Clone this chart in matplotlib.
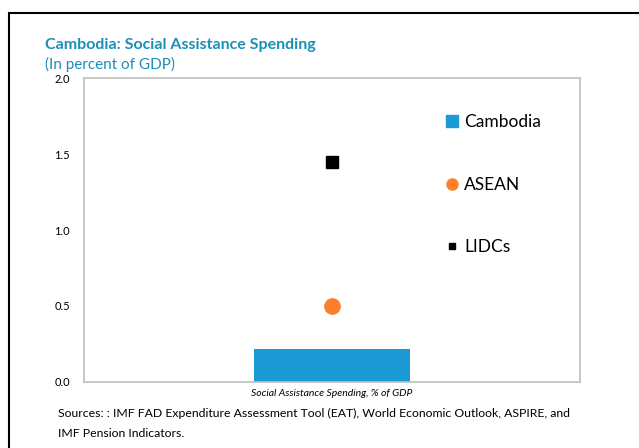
#!/usr/bin/env python3
"""Cambodia social assistance spending vs ASEAN and LIDCs."""
import matplotlib
matplotlib.use("Agg")
import matplotlib.pyplot as plt
from matplotlib.patches import Rectangle
from matplotlib.lines import Line2D

category = ["Social Assistance Spending, % of GDP"]
cambodia = [0.22]
asean = [0.50]
lidcs = [1.45]
yticks = [0.0, 0.5, 1.0, 1.5, 2.0]

BLUE = "#1c9ad6"
ORANGE = "#fd7f2a"
TITLE_C = "#1a8fb8"
plt.rcParams["font.family"] = ["Lato", "DejaVu Sans"]

fig = plt.figure(figsize=(6.39, 4.48), dpi=100)
ax = fig.add_axes([84 / 639, 1 - 382 / 448, 496 / 639, 304 / 448])

x = range(len(category))
ax.bar(x, cambodia, width=0.315, color=BLUE, zorder=2)
ax.plot(x, asean, "o", color=ORANGE, ms=11, zorder=3)
ax.plot(x, lidcs, "s", color="black", ms=9, zorder=3)

ax.set_xlim(-0.5, 0.5)
ax.set_ylim(0, 2.0)
ax.set_yticks(yticks)
ax.set_yticklabels([f"{v:.1f}" for v in yticks], fontsize=8)
ax.set_xticks([])
ax.tick_params(axis="y", length=0, pad=10)
for s in ax.spines.values():
    s.set_color("#bfbfbf")
    s.set_linewidth(1.2)
ax.set_xlabel(category[0], fontsize=7.5, style="italic", labelpad=5)

handles = [
    Line2D([], [], ls="none", marker="s", color=BLUE, ms=8),
    Line2D([], [], ls="none", marker="o", color=ORANGE, ms=8),
    Line2D([], [], ls="none", marker="s", color="black", ms=4),
]
ax.legend(handles, ["Cambodia", "ASEAN", "LIDCs"], loc="upper left",
          bbox_to_anchor=(0.70, 0.932), frameon=False, fontsize=12.5,
          labelspacing=2.68, handlelength=0.6, handletextpad=0.4)

fig.text(45 / 639, 1 - 45 / 448, "Cambodia: Social Assistance Spending",
         color=TITLE_C, fontsize=11.5, weight="bold", va="center")
fig.text(45 / 639, 1 - 64 / 448, "(In percent of GDP)",
         color=TITLE_C, fontsize=11, va="center")
fig.text(58 / 639, 1 - 413 / 448,
         "Sources: : IMF FAD Expenditure Assessment Tool (EAT), World Economic Outlook, ASPIRE, and",
         fontsize=8.8, va="center")
fig.text(58 / 639, 1 - 433 / 448, "IMF Pension Indicators.", fontsize=8.8, va="center")

fig.patches.append(Rectangle((9 / 639, -0.1), 1.2, 1 - 13 / 448 + 0.1,
                             transform=fig.transFigure, fill=False,
                             edgecolor="black", lw=1.5))

fig.savefig("out.png", dpi=100)
